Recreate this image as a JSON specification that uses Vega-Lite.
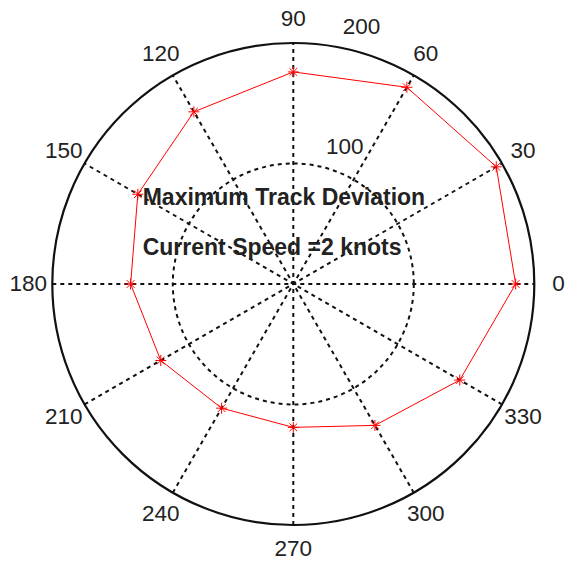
{
  "$schema": "https://vega.github.io/schema/vega-lite/v6.json",
  "width": 566,
  "height": 564,
  "autosize": {"type": "fit", "contains": "padding"},
  "padding": 0,
  "background": "white",
  "config": {"view": {"stroke": null}},
  "datasets": {
    "deviation": [
      {"theta": 0, "r": 184.5},
      {"theta": 30, "r": 194.5},
      {"theta": 60, "r": 188.5},
      {"theta": 90, "r": 176},
      {"theta": 120, "r": 165},
      {"theta": 150, "r": 149},
      {"theta": 180, "r": 135},
      {"theta": 210, "r": 127},
      {"theta": 240, "r": 119},
      {"theta": 270, "r": 119},
      {"theta": 300, "r": 135.5},
      {"theta": 330, "r": 159.5}
    ],
    "spokes": [
      {"theta": 0, "label": "0"},
      {"theta": 30, "label": "30"},
      {"theta": 60, "label": "60"},
      {"theta": 90, "label": "90"},
      {"theta": 120, "label": "120"},
      {"theta": 150, "label": "150"},
      {"theta": 180, "label": "180"},
      {"theta": 210, "label": "210"},
      {"theta": 240, "label": "240"},
      {"theta": 270, "label": "270"},
      {"theta": 300, "label": "300"},
      {"theta": 330, "label": "330"}
    ],
    "rings": [
      {"r": 100, "label": "100"},
      {"r": 200, "label": "200"}
    ],
    "notes": [
      {"x": -125, "y": 65.6, "text": "Maximum Track Deviation"},
      {"x": -125, "y": 24.1, "text": "Current Speed =2 knots"}
    ]
  },
  "layer": [
    {
      "data": {"name": "spokes"},
      "transform": [
        {"filter": "datum.theta < 180"},
        {"calculate": "-200 * cos(datum.theta * PI / 180)", "as": "x"},
        {"calculate": "-200 * sin(datum.theta * PI / 180)", "as": "y"},
        {"calculate": "200 * cos(datum.theta * PI / 180)", "as": "x2"},
        {"calculate": "200 * sin(datum.theta * PI / 180)", "as": "y2"}
      ],
      "mark": {"type": "rule", "color": "#111111", "strokeWidth": 2, "strokeDash": [4, 4]},
      "encoding": {
        "x": {"field": "x", "type": "quantitative", "scale": {"domain": [-243.4, 226.3], "nice": false, "zero": false}, "axis": null},
        "y": {"field": "y", "type": "quantitative", "scale": {"domain": [-232.4, 235.7], "nice": false, "zero": false}, "axis": null},
        "x2": {"field": "x2"},
        "y2": {"field": "y2"}
      }
    },
    {
      "data": {"values": [{"x": 0, "y": 0}]},
      "mark": {"type": "point", "shape": "circle", "filled": false, "size": 58081, "color": "#111111", "strokeWidth": 2, "strokeDash": [4, 4], "opacity": 1},
      "encoding": {
        "x": {"field": "x", "type": "quantitative"},
        "y": {"field": "y", "type": "quantitative"}
      }
    },
    {
      "data": {"values": [{"x": 0, "y": 0}]},
      "mark": {"type": "point", "shape": "circle", "filled": false, "size": 232324, "color": "#111111", "strokeWidth": 2.2, "opacity": 1},
      "encoding": {
        "x": {"field": "x", "type": "quantitative"},
        "y": {"field": "y", "type": "quantitative"}
      }
    },
    {
      "data": {"name": "deviation"},
      "transform": [
        {"calculate": "datum.r * cos(datum.theta * PI / 180)", "as": "x"},
        {"calculate": "datum.r * sin(datum.theta * PI / 180)", "as": "y"}
      ],
      "layer": [
        {
          "mark": {"type": "line", "interpolate": "linear-closed", "color": "#ff0000", "strokeWidth": 1},
          "encoding": {
            "x": {"field": "x", "type": "quantitative"},
            "y": {"field": "y", "type": "quantitative"},
            "order": {"field": "theta", "type": "quantitative"}
          }
        },
        {
          "mark": {"type": "point", "shape": "M-1,0L1,0M0,-1L0,1M-0.7,-0.7L0.7,0.7M-0.7,0.7L0.7,-0.7", "filled": false, "size": 121, "color": "#ff0000", "strokeWidth": 1, "opacity": 1},
          "encoding": {
            "x": {"field": "x", "type": "quantitative"},
            "y": {"field": "y", "type": "quantitative"}
          }
        }
      ]
    },
    {
      "data": {"name": "spokes"},
      "transform": [
        {"calculate": "220 * cos(datum.theta * PI / 180)", "as": "x"},
        {"calculate": "220 * sin(datum.theta * PI / 180)", "as": "y"}
      ],
      "mark": {"type": "text", "font": "Liberation Sans", "fontSize": 22.5, "color": "#222222", "align": "center", "baseline": "middle"},
      "encoding": {
        "x": {"field": "x", "type": "quantitative"},
        "y": {"field": "y", "type": "quantitative"},
        "text": {"field": "label"}
      }
    },
    {
      "data": {"name": "rings"},
      "transform": [
        {"calculate": "(datum.r + 5) * cos(82 * PI / 180)", "as": "x"},
        {"calculate": "(datum.r + 5) * sin(82 * PI / 180)", "as": "y"}
      ],
      "mark": {"type": "text", "font": "Liberation Sans", "fontSize": 22.5, "color": "#222222", "align": "left", "baseline": "alphabetic", "dx": 15, "dy": -5},
      "encoding": {
        "x": {"field": "x", "type": "quantitative"},
        "y": {"field": "y", "type": "quantitative"},
        "text": {"field": "label"}
      }
    },
    {
      "data": {"name": "notes"},
      "mark": {"type": "text", "font": "Liberation Sans", "fontSize": 23, "fontWeight": "bold", "color": "#222222", "align": "left", "baseline": "alphabetic"},
      "encoding": {
        "x": {"field": "x", "type": "quantitative"},
        "y": {"field": "y", "type": "quantitative"},
        "text": {"field": "text"}
      }
    }
  ]
}
